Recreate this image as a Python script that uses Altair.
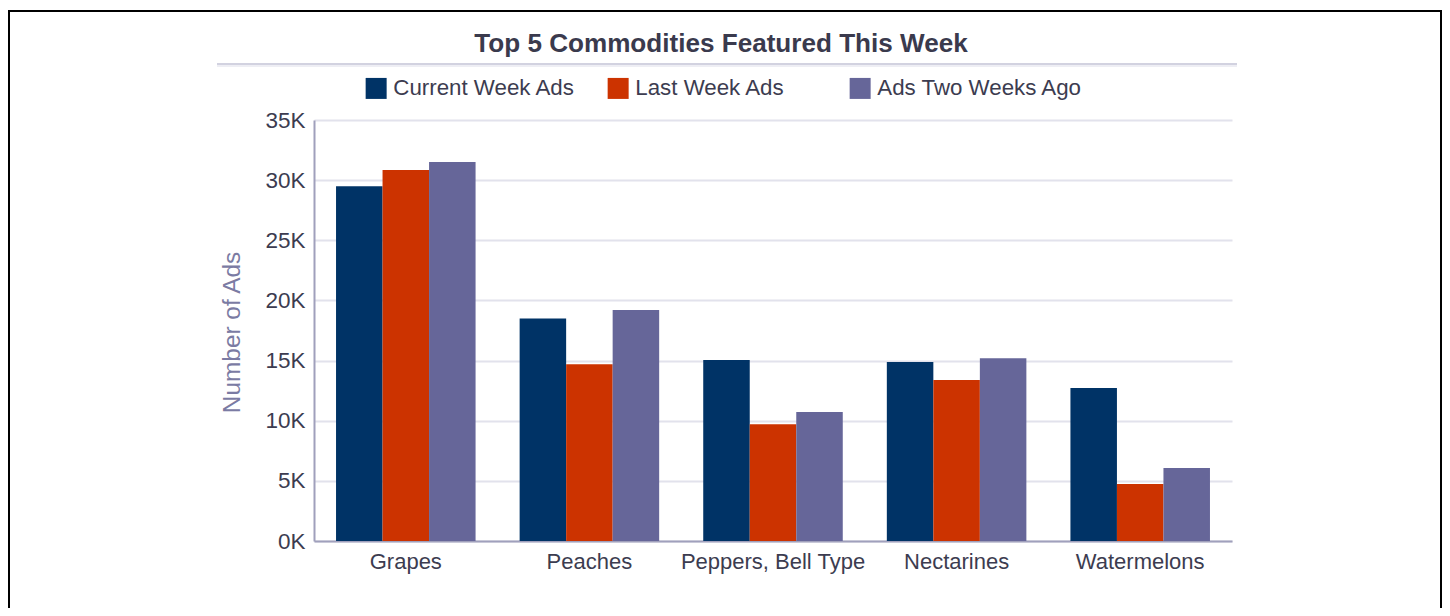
import altair as alt
import pandas as pd

categories = ["Grapes", "Peaches", "Peppers, Bell Type", "Nectarines", "Watermelons"]
series = ["Current Week Ads", "Last Week Ads", "Ads Two Weeks Ago"]
current_week = [29500, 18500, 15050, 14880, 12720]
last_week = [30840, 14700, 9700, 13380, 4740]
two_weeks_ago = [31500, 19200, 10720, 15200, 6070]
colors = ["#003366", "#cc3300", "#666699"]
y_ticks = [0, 5000, 10000, 15000, 20000, 25000, 30000, 35000]
title_text = "Top 5 Commodities Featured This Week"
y_title = "Number of Ads"

rows = []
for name, vals in zip(series, [current_week, last_week, two_weeks_ago]):
    for c, v in zip(categories, vals):
        rows.append({"Commodity": c, "Series": name, "Ads": v})
df = pd.DataFrame(rows)
one = pd.DataFrame({"k": [0]})

FONT = "Liberation Sans"
TXT = "#3c3c50"

bars = alt.Chart(df).mark_bar().encode(
    x=alt.X("Commodity:N", sort=categories,
            scale=alt.Scale(paddingInner=0.24, paddingOuter=0.12),
            axis=alt.Axis(title=None, labelAngle=0, ticks=False, labelPadding=10,
                          labelFontSize=22, labelFont=FONT, labelColor=TXT,
                          labelLimit=400,
                          domainColor="#a0a0bc", domainWidth=2, grid=False)),
    xOffset=alt.XOffset("Series:N", sort=series),
    y=alt.Y("Ads:Q", scale=alt.Scale(domain=[0, 35000], nice=False),
            axis=alt.Axis(title=y_title, values=y_ticks,
                          labelExpr="datum.value / 1000 + 'K'",
                          ticks=False, labelPadding=9, labelFontSize=22.5,
                          labelFont=FONT, labelColor=TXT,
                          domainColor="#a0a0bc", domainWidth=2,
                          gridColor="#e2e2ec", gridWidth=2,
                          titleFont=FONT, titleFontSize=24.4, titleFontWeight="normal",
                          titleColor="#7b7ba3", titleAngle=270, titleX=-82, titleY=212,
                          titleAlign="center", titleBaseline="middle")),
    color=alt.Color("Series:N", sort=series,
                    scale=alt.Scale(domain=series, range=colors),
                    legend=alt.Legend(title=None, orient="none", legendX=51, legendY=-43,
                                      direction="horizontal", columns=3, gridAlign="all",
                                      symbolType="square", symbolSize=441,
                                      symbolStrokeWidth=0, labelFontSize=22.3,
                                      labelFont=FONT, labelColor=TXT, labelOffset=6,
                                      labelLimit=400,
                                      columnPadding=8, padding=0)),
)

title = alt.Chart(one).mark_text(
    text=title_text, font=FONT, fontSize=26.1, fontWeight="bold", color="#3a3a4d",
    align="center", baseline="alphabetic"
).encode(x=alt.value(407), y=alt.value(-68))

rule1 = alt.Chart(one).mark_rule(color="#d2d2e0", strokeWidth=2).encode(
    x=alt.value(-97), x2=alt.value(923), y=alt.value(-56))
rule2 = alt.Chart(one).mark_rule(color="#e8e8f0", strokeWidth=1.5).encode(
    x=alt.value(-97), x2=alt.value(923), y=alt.value(-54))

border = alt.Chart(one).mark_rect(filled=False, stroke="black", strokeWidth=2).encode(
    x=alt.value(-305), x2=alt.value(1127), y=alt.value(-109), y2=alt.value(700))

chart = alt.layer(border, rule1, rule2, title, bars).properties(
    width=918, height=421,
    autosize=alt.AutoSizeParams(type="none"),
    padding={"left": 306, "top": 112, "right": 210, "bottom": 67},
).configure(background="white").configure_view(stroke=None)

chart.save("out.html", embed_options={"renderer": "svg", "actions": False})
